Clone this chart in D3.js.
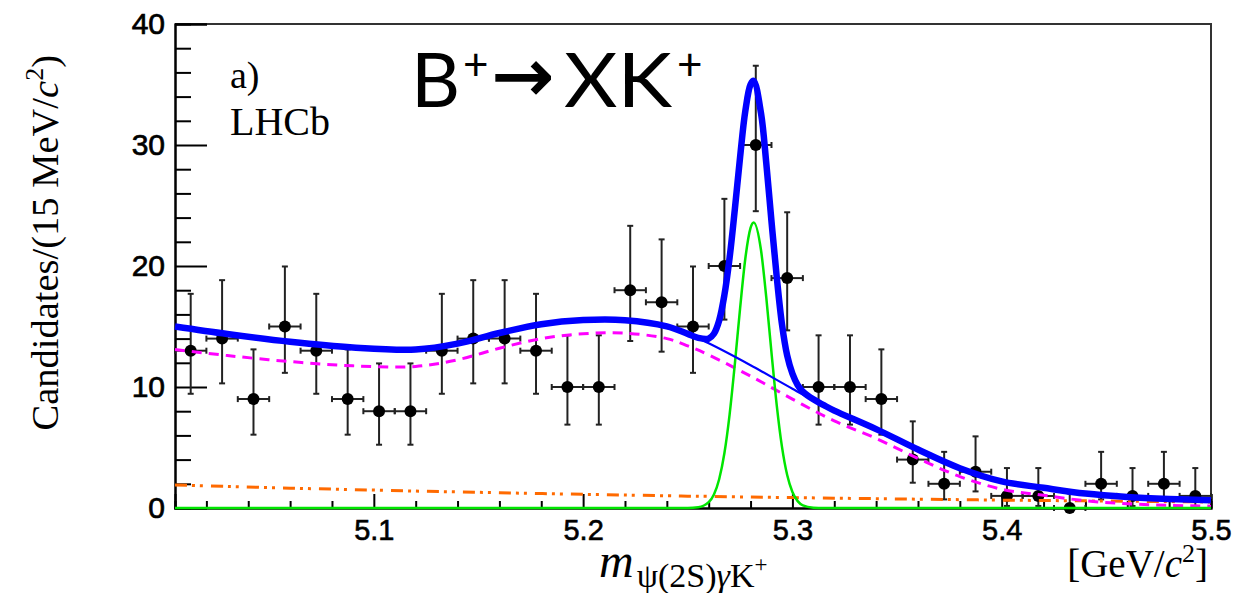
<!DOCTYPE html>
<html><head><meta charset="utf-8">
<script src="https://cdn.jsdelivr.net/npm/d3@7"></script>
<style>html,body{margin:0;padding:0;background:#fff;}svg{display:block;}</style>
</head><body>
<svg id="c" width="1256" height="593"></svg>
<script>
// ---------------- data ----------------
const binCenters = [5.0125,5.0275,5.0425,5.0575,5.0725,5.0875,5.1025,5.1175,5.1325,5.1475,5.1625,5.1775,5.1925,5.2075,5.2225,5.2375,5.2525,5.2675,5.2825,5.2975,5.3125,5.3275,5.3425,5.3575,5.3725,5.3875,5.4025,5.4175,5.4325,5.4475,5.4625,5.4775,5.4925];
const counts     = [13,14,9,15,13,9,8,8,13,14,14,13,10,10,18,17,15,20,30,19,10,10,9,4,2,3,1,1,0,2,1,2,1];
const errLow     = [3.56,3.70,2.94,3.83,3.56,2.94,2.77,2.77,3.56,3.70,3.70,3.56,3.11,3.11,4.20,4.08,3.83,4.43,5.47,4.32,3.11,3.11,2.94,1.91,1.29,1.63,0.83,0.83,0,1.29,0.83,1.29,0.83];
const errHigh    = [4.70,4.83,4.11,4.96,4.70,4.11,3.95,3.95,4.70,4.83,4.83,4.70,4.27,4.27,5.32,5.20,4.96,5.55,6.55,5.44,4.27,4.27,4.11,3.16,2.64,2.92,2.30,2.30,1.20,2.64,2.30,2.64,2.30];
const binHalfWidth = 0.0075;

// background components
const bgX        = [5.005,5.03,5.06,5.09,5.12,5.14,5.16,5.18,5.20,5.22,5.24,5.25,5.26,5.28,5.30,5.32,5.34,5.36,5.38,5.40,5.42,5.44,5.46,5.48,5.50];
const combBkg    = [13.1,12.6,12.1,11.75,11.7,12.25,13.2,14.0,14.4,14.45,14.0,13.4,12.65,10.9,9.0,7.2,5.75,4.1,2.6,1.55,1.05,0.6,0.35,0.22,0.15];
const otherBkg   = [1.9,1.78,1.64,1.52,1.40,1.33,1.26,1.19,1.13,1.07,1.01,0.98,0.96,0.90,0.86,0.81,0.77,0.73,0.69,0.65,0.62,0.59,0.56,0.53,0.50];
const totalBkg   = [15.0,14.38,13.74,13.27,13.1,13.58,14.46,15.19,15.53,15.52,15.01,14.38,13.61,11.8,9.86,8.0,6.52,4.83,3.29,2.2,1.67,1.19,0.91,0.75,0.65];

// signal component
const sigX   = [5.005,5.25,5.255,5.26,5.2625,5.265,5.2675,5.27,5.2725,5.275,5.2775,5.28,5.2815,5.285,5.2875,5.29,5.2925,5.295,5.2975,5.30,5.3025,5.305,5.31,5.315,5.50];
const sigY   = [0,0,0.06,0.48,1.12,2.38,4.52,7.74,11.92,16.5,20.62,23.15,23.6,21.3,17.42,12.84,8.51,5.07,2.72,1.32,0.57,0.22,0.03,0,0];

// total fit
const totX   = [5.005,5.03,5.06,5.09,5.12,5.14,5.16,5.18,5.20,5.22,5.24,5.25,5.255,5.26,5.2625,5.265,5.2675,5.27,5.2725,5.275,5.2775,5.28,5.2815,5.285,5.2875,5.29,5.2925,5.295,5.2975,5.30,5.3025,5.305,5.31,5.315,5.32,5.34,5.36,5.38,5.40,5.42,5.44,5.46,5.48,5.50];
const totY   = [15.0,14.38,13.74,13.27,13.1,13.58,14.46,15.19,15.53,15.52,15.01,14.39,14.06,14.0,14.4,15.5,17.6,20.7,24.7,29.0,32.8,35.0,35.3,32.62,28.52,23.69,19.11,15.2,12.6,11.1,10.17,9.62,8.98,8.5,8.05,6.52,4.83,3.29,2.2,1.67,1.19,0.91,0.75,0.65];

const yMajorTicks = [0,10,20,30,40];
const yMinorTicks = [2,4,6,8,12,14,16,18,22,24,26,28,32,34,36,38];
const xMajorTicks = [5.1,5.2,5.3,5.4,5.5];
const xMinorTicks = [5.02,5.04,5.06,5.08,5.12,5.14,5.16,5.18,5.22,5.24,5.26,5.28,5.32,5.34,5.36,5.38,5.42,5.44,5.46,5.48];

// ---------------- drawing ----------------
const svg = d3.select("#c");
const L = 175, R = 1211, T = 24, B = 508;
const x = d3.scaleLinear().domain([5.005, 5.5]).range([L, R]);
const y = d3.scaleLinear().domain([0, 40]).range([B, T]);

// frame top/right
svg.append("path").attr("d", `M${L},${T}H${R}V${B}`).attr("fill","none").attr("stroke","#333").attr("stroke-width",2);

// axes
const tickFont = "'Liberation Sans', Arial, Helvetica, sans-serif";
const gy = svg.append("g").attr("transform", `translate(${L},0)`);
gy.call(d3.axisLeft(y).tickValues(yMajorTicks).tickSize(-32).tickPadding(10).tickFormat(d3.format("d")));
gy.append("g").call(d3.axisLeft(y).tickValues(yMinorTicks).tickSize(-16).tickFormat(""));
gy.selectAll("path.domain").attr("stroke","#000").attr("stroke-width",2);
gy.selectAll("line").attr("stroke","#000").attr("stroke-width",2);
gy.selectAll("text").attr("font-family", tickFont).attr("font-size", 30).attr("fill","#000").attr("stroke","#000").attr("stroke-width",0.7);

const gx = svg.append("g").attr("transform", `translate(0,${B})`);
gx.call(d3.axisBottom(x).tickValues(xMajorTicks).tickSize(-14).tickPadding(11).tickFormat(d3.format(".1f")));
gx.append("g").call(d3.axisBottom(x).tickValues(xMinorTicks).tickSize(-7).tickFormat(""));
gx.selectAll("path.domain").attr("stroke","#000").attr("stroke-width",2);
gx.selectAll("line").attr("stroke","#000").attr("stroke-width",2);
gx.selectAll("text").attr("font-family", tickFont).attr("font-size", 29).attr("fill","#000").attr("stroke","#000").attr("stroke-width",0.6);

// data points with error bars
const gd = svg.append("g");
const pts = binCenters.map((c,i)=>({c, n:counts[i], lo:errLow[i], hi:errHigh[i]}));
const pg = gd.selectAll("g.pt").data(pts).join("g");
const ebCol = "#222", cap = 3;
pg.append("line").attr("x1",d=>x(d.c)).attr("x2",d=>x(d.c)).attr("y1",d=>y(d.n-d.lo)).attr("y2",d=>y(d.n+d.hi)).attr("stroke",ebCol).attr("stroke-width",2);
pg.append("line").attr("x1",d=>x(d.c)-cap).attr("x2",d=>x(d.c)+cap).attr("y1",d=>y(d.n+d.hi)).attr("y2",d=>y(d.n+d.hi)).attr("stroke",ebCol).attr("stroke-width",2);
pg.filter(d=>d.lo>0).append("line").attr("x1",d=>x(d.c)-cap).attr("x2",d=>x(d.c)+cap).attr("y1",d=>y(d.n-d.lo)).attr("y2",d=>y(d.n-d.lo)).attr("stroke",ebCol).attr("stroke-width",2);
pg.append("line").attr("x1",d=>x(d.c-binHalfWidth)).attr("x2",d=>x(d.c+binHalfWidth)).attr("y1",d=>y(d.n)).attr("y2",d=>y(d.n)).attr("stroke",ebCol).attr("stroke-width",2);
pg.append("line").attr("x1",d=>x(d.c-binHalfWidth)).attr("x2",d=>x(d.c-binHalfWidth)).attr("y1",d=>y(d.n)-cap).attr("y2",d=>y(d.n)+cap).attr("stroke",ebCol).attr("stroke-width",2);
pg.append("line").attr("x1",d=>x(d.c+binHalfWidth)).attr("x2",d=>x(d.c+binHalfWidth)).attr("y1",d=>y(d.n)-cap).attr("y2",d=>y(d.n)+cap).attr("stroke",ebCol).attr("stroke-width",2);
pg.append("circle").attr("cx",d=>x(d.c)).attr("cy",d=>y(d.n)).attr("r",6).attr("fill","#000");

// curves
const smooth = d3.curveCatmullRom.alpha(0.5);
const line = (xs, ys, crv) => d3.line().x((d,i)=>x(xs[i])).y((d,i)=>y(ys[i])).curve(crv || smooth)(ys);
const gc = svg.append("g");
gc.append("path").attr("d", line(bgX, otherBkg)).attr("fill","none").attr("stroke","#ff6a00").attr("stroke-width",3).attr("stroke-dasharray","12,5,3,5,3,8");
gc.append("path").attr("d", line(bgX, combBkg)).attr("fill","none").attr("stroke","#ff00ff").attr("stroke-width",3).attr("stroke-dasharray","10,7");
gc.append("path").attr("d", line(sigX, sigY, d3.curveMonotoneX)).attr("fill","none").attr("stroke","#00e600").attr("stroke-width",2.5);
gc.append("path").attr("d", line(bgX, totalBkg)).attr("fill","none").attr("stroke","#0000ff").attr("stroke-width",2.2);
gc.append("path").attr("d", line(totX, totY)).attr("fill","none").attr("stroke","#0000ff").attr("stroke-width",6.5).attr("stroke-linejoin","round");

// texts
const serif = "'Liberation Serif', 'Times New Roman', serif";
svg.append("text").attr("x",230).attr("y",88).attr("font-family",serif).attr("font-size",38).text("a)");
svg.append("text").attr("x",230).attr("y",135).attr("font-family",serif).attr("font-size",40).text("LHCb");

// title B+ -> X K+
const sans = "Lato, 'Open Sans', 'DejaVu Sans', sans-serif";
const tg = svg.append("g").attr("font-family",sans).attr("fill","#000");
tg.append("text").attr("x",411).attr("y",107).attr("font-size",76).text("B");
tg.append("text").attr("x",463).attr("y",80).attr("font-size",44).text("+");
tg.append("text").attr("x",492).attr("y",101).attr("font-family","'DejaVu Sans', sans-serif").attr("font-size",74).attr("stroke","#000").attr("stroke-width",1.5).text("→");
tg.append("text").attr("x",564).attr("y",107).attr("font-size",76).attr("textLength",108).attr("lengthAdjust","spacingAndGlyphs").text("XK");
tg.append("text").attr("x",677).attr("y",80).attr("font-size",44).text("+");

// y axis title
const yt = svg.append("text").attr("transform","translate(58,55) rotate(-90)").attr("text-anchor","end").attr("font-family",serif).attr("font-size",38.5);
yt.append("tspan").text("Candidates/(15 MeV/");
yt.append("tspan").attr("font-style","italic").text("c");
yt.append("tspan").attr("font-size",26).attr("dy",-15).text("2");
yt.append("tspan").attr("dy",15).text(")");

// x axis title
const xt = svg.append("text").attr("x",599).attr("y",577).attr("font-family",serif).attr("font-size",48);
xt.append("tspan").attr("font-style","italic").text("m");
xt.append("tspan").attr("font-size",34).attr("dx",3).attr("dy",10).text("ψ(2S)");
xt.append("tspan").attr("font-size",34).attr("font-style","italic").text("γ");
xt.append("tspan").attr("font-size",34).text("K");
xt.append("tspan").attr("font-size",23).attr("dy",-15).text("+");

const ut = svg.append("text").attr("x",1208).attr("y",577).attr("text-anchor","end").attr("font-family",serif).attr("font-size",39);
ut.append("tspan").text("[GeV/");
ut.append("tspan").attr("font-style","italic").text("c");
ut.append("tspan").attr("font-size",26).attr("dy",-15).text("2");
ut.append("tspan").attr("dy",15).text("]");
</script>
</body></html>
